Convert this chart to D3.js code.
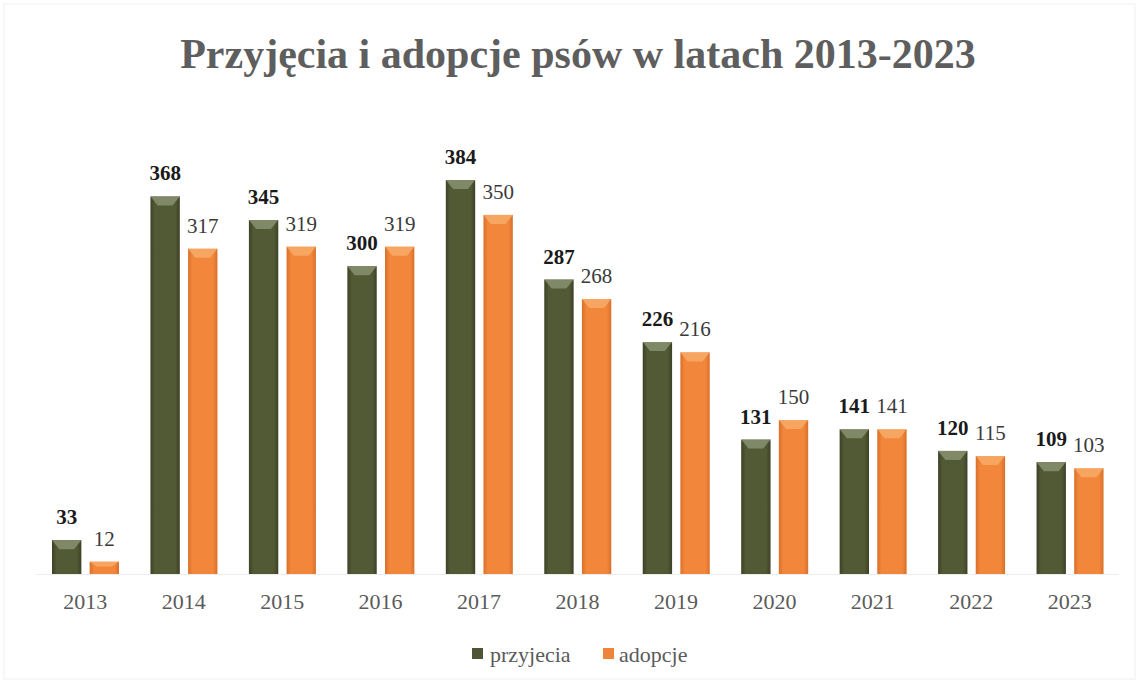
<!DOCTYPE html>
<html>
<head>
<meta charset="utf-8">
<script src="https://cdn.jsdelivr.net/npm/d3@7"></script>
<style>
  body { margin: 0; background: #fff; }
  svg { display: block; }
  text { font-family: "Liberation Serif", "Times New Roman", serif; }
</style>
</head>
<body>
<div id="chart"></div>
<script>
// data
var years = ["2013", "2014", "2015", "2016", "2017", "2018", "2019", "2020", "2021", "2022", "2023"];
var przyjecia = [33, 368, 345, 300, 384, 287, 226, 131, 141, 120, 109];
var adopcje = [12, 317, 319, 319, 350, 268, 216, 150, 141, 115, 103];
var seriesNames = ["przyjecia", "adopcje"];

var width = 1139, height = 683;
var margin = { left: 36, right: 20, top: 100, bottom: 109 };

var svg = d3.select("#chart").append("svg")
  .attr("width", width)
  .attr("height", height);

// gradients for the bevelled look
var defs = svg.append("defs");
function makeGrad(id, dark, mid) {
  var g = defs.append("linearGradient").attr("id", id)
    .attr("x1", "0").attr("x2", "1").attr("y1", "0").attr("y2", "0");
  g.append("stop").attr("offset", "0%").attr("stop-color", dark);
  g.append("stop").attr("offset", "15%").attr("stop-color", mid);
  g.append("stop").attr("offset", "85%").attr("stop-color", mid);
  g.append("stop").attr("offset", "100%").attr("stop-color", dark);
}
makeGrad("gradGreen", "#3c4126", "#525935");
makeGrad("gradOrange", "#d9702a", "#f2873b");

var colors = { przyjecia: "url(#gradGreen)", adopcje: "url(#gradOrange)" };
var capColors = { przyjecia: "#8f9878", adopcje: "#f8b070" };
var legendColors = { przyjecia: "#4f5534", adopcje: "#ef8538" };

// frame
svg.append("rect")
  .attr("x", 4).attr("y", 4)
  .attr("width", width - 8).attr("height", height - 8)
  .attr("fill", "none")
  .attr("stroke", "#f0f0f0");

// title
svg.append("text")
  .attr("x", 578)
  .attr("y", 68)
  .attr("text-anchor", "middle")
  .attr("font-size", "42px")
  .attr("font-weight", "bold")
  .attr("fill", "#5e5e5e")
  .text("Przyjęcia i adopcje psów w latach 2013-2023");

var x0 = d3.scaleBand()
  .domain(years)
  .range([margin.left, width - margin.right])
  .padding(0);

var x1 = d3.scaleBand()
  .domain(seriesNames)
  .range([16, 83])
  .paddingInner(0.22);

var baseY = height - margin.bottom;
var y = d3.scaleLinear()
  .domain([0, 384])
  .range([baseY, 180]);

var rows = years.map(function (yr, i) {
  return { year: yr, przyjecia: przyjecia[i], adopcje: adopcje[i] };
});

var groups = svg.append("g").selectAll("g")
  .data(rows).enter()
  .append("g")
  .attr("transform", d => "translate(" + x0(d.year) + ",0)");

var bars = groups.selectAll("g.bar")
  .data(d => seriesNames.map(k => ({ key: k, value: d[k] })))
  .enter().append("g")
  .attr("class", "bar");

bars.append("rect")
  .attr("x", d => x1(d.key))
  .attr("y", d => y(d.value))
  .attr("width", x1.bandwidth())
  .attr("height", d => baseY - y(d.value))
  .attr("fill", d => colors[d.key]);

// light cap on top of each bar
bars.append("path")
  .attr("d", function (d) {
    var bx = x1(d.key), bw = x1.bandwidth(), by = y(d.value);
    var h = Math.min(9, (baseY - by) * 0.4);
    return "M" + bx + "," + by + "H" + (bx + bw) +
      "L" + (bx + bw * 0.75) + "," + (by + h) +
      "H" + (bx + bw * 0.25) + "Z";
  })
  .attr("fill", d => capColors[d.key])
  .attr("opacity", 0.75);

// value labels
bars.append("text")
  .attr("x", d => x1(d.key) + x1.bandwidth() / 2)
  .attr("y", d => y(d.value) - 16)
  .attr("text-anchor", "middle")
  .attr("font-size", "21px")
  .attr("font-weight", d => d.key === "przyjecia" ? "bold" : "normal")
  .attr("fill", d => d.key === "przyjecia" ? "#1a1a1a" : "#3a3a3a")
  .text(d => d.value);

// baseline
svg.append("line")
  .attr("x1", margin.left).attr("x2", width - margin.right)
  .attr("y1", baseY + 0.5).attr("y2", baseY + 0.5)
  .attr("stroke", "#ececec");

// x axis
var xAxis = d3.axisBottom(x0).tickSize(0).tickPadding(19);
var xg = svg.append("g")
  .attr("transform", "translate(0," + baseY + ")")
  .call(xAxis);
xg.select(".domain").remove();
xg.attr("font-family", null);
xg.selectAll("text")
  .attr("font-size", "22px")
  .attr("fill", "#5a5a5a");

// legend
var legend = svg.append("g").attr("transform", "translate(472,648)");
var legendX = [0, 131];
seriesNames.forEach(function (k, i) {
  var item = legend.append("g").attr("transform", "translate(" + legendX[i] + ",0)");
  item.append("rect")
    .attr("width", 11).attr("height", 11)
    .attr("fill", legendColors[k]);
  item.append("text")
    .attr("x", i === 0 ? 18 : 16)
    .attr("y", 14)
    .attr("font-size", "22px")
    .attr("fill", "#5a5a5a")
    .text(k);
});
</script>
</body>
</html>
